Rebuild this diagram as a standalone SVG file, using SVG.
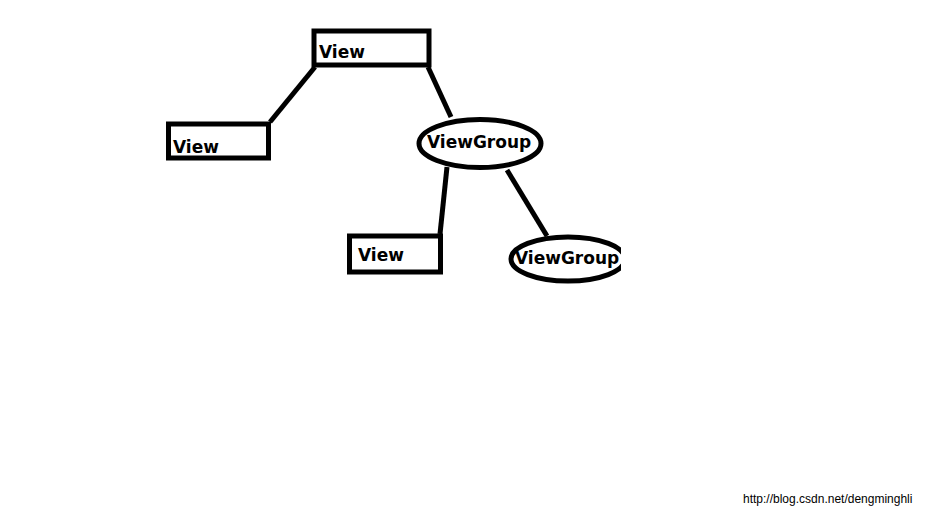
<svg xmlns="http://www.w3.org/2000/svg" width="926" height="517" viewBox="0 0 926 517">
<style>
.box{fill:none;stroke:#000;stroke-width:5}
.lbl{font-family:"DejaVu Sans",sans-serif;font-weight:bold;font-size:17px;fill:#000}
.con line{stroke:#000;stroke-width:5}
</style>
<defs>
<clipPath id="cut"><rect x="0" y="0" width="621" height="517"/></clipPath>
</defs>
<rect width="926" height="517" fill="#fff"/>
<g id="connectors" class="con">
<line x1="315" y1="67" x2="270" y2="122"/>
<line x1="428" y1="67" x2="451" y2="117"/>
<line x1="447" y1="167" x2="440" y2="234"/>
<line x1="507" y1="170" x2="547" y2="236"/>
</g>
<g id="view-root">
<rect class="box" x="314" y="31" width="115" height="34"/>
<text class="lbl" x="319" y="58">View</text>
</g>
<g id="view-left">
<rect class="box" x="168.5" y="124" width="100" height="34"/>
<text class="lbl" x="173" y="153">View</text>
</g>
<g id="viewgroup-1">
<ellipse class="box" cx="480" cy="143.5" rx="61" ry="24"/>
<text class="lbl" x="427" y="148">ViewGroup</text>
</g>
<g id="view-bottom">
<rect class="box" x="349.5" y="236" width="91" height="36"/>
<text class="lbl" x="358" y="261">View</text>
</g>
<g id="viewgroup-2" clip-path="url(#cut)">
<ellipse class="box" cx="568" cy="259" rx="57" ry="22"/>
<text class="lbl" x="515" y="264">ViewGroup</text>
</g>
<text x="743" y="503" font-family="Liberation Sans, Arial, sans-serif" font-size="12" fill="#000">http://blog.csdn.net/dengminghli</text>
</svg>
